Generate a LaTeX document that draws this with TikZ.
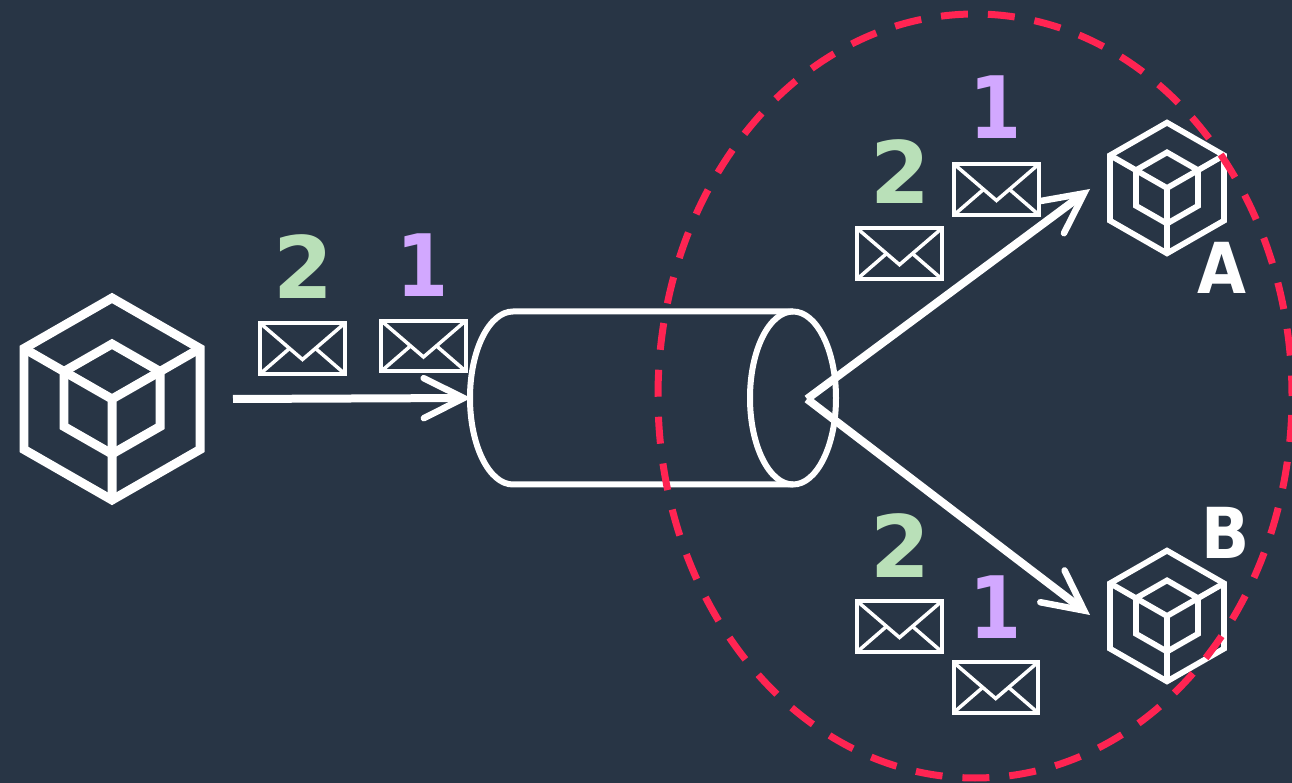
\documentclass[tikz,border=0pt]{standalone}
\usepackage{fontspec}
\setmainfont{DejaVu Sans}
\usetikzlibrary{arrows.meta}
\definecolor{slatebg}{HTML}{283545}
\definecolor{lilac}{HTML}{D2A8FF}
\definecolor{mint}{HTML}{B9E0B8}
\definecolor{alertred}{HTML}{FF2452}
\tikzset{
	flow/.style={draw=white, line width=0.16cm, -{Straight Barb[length=0.8cm, width=0.8cm, line width=0.13cm, line cap=round, line join=miter]}},
	seqnum/.style={font=\fontsize{49}{49}\selectfont\bfseries, inner sep=0pt},
	seqone/.style={seqnum, text=lilac, xscale=0.87, transform shape},
	tag/.style={font=\fontsize{40}{40}\selectfont\bfseries, text=white, inner sep=0pt, xscale=0.9, transform shape},
	cube/.pic={
		\draw[white, miter limit=4] (0,-101) -- (88,-50.5) -- (88,50.5) -- (0,101) -- (-88,50.5) -- (-88,-50.5) -- cycle;
		\draw[white] (0,-55) -- (48,-27.5) -- (48,27.5) -- (0,55) -- (-48,27.5) -- (-48,-27.5) -- cycle;
		\draw[white] (0,101) -- (0,0) (-48,-27.5) -- (0,0) -- (48,-27.5);
		\draw[white] (-88,-50.5) -- (-48,-27.5) (88,-50.5) -- (48,-27.5);
	},
	mail/.pic={
		\draw[white, line width=0.08cm, fill=slatebg] (-42.2,-25.2) rectangle (42.2,25.2);
		\draw[white, line width=0.07cm] (-42.2,-25.2) -- (0,11) -- (42.2,-25.2);
		\draw[white, line width=0.07cm] (-42.2,25.2) -- (-12.5,-0.5) (42.2,25.2) -- (12.5,-0.5);
	}
}

\begin{document}
\begin{tikzpicture}[x=0.02cm, y=-0.02cm]
	% Background
	\fill[slatebg] (0,0) rectangle (1292,783);
	\useasboundingbox (0,0) rectangle (1292,783);

	% Producer
	\pic[line width=0.18cm] (producer) at (112,399) {cube};

	% Queue
	\draw[white, line width=0.12cm] (793,311.5) -- (513,311.5) arc (-90:-270:43 and 86.5) -- (793,484.5);
	\draw[white, line width=0.12cm] (793,398) ellipse (43 and 86.5);
	\coordinate (queuein) at (471,398);
	\coordinate (producerout) at (233,399);
	\coordinate (fanout) at (807,399);
	\coordinate (inboxa) at (1090,189);
	\coordinate (inboxb) at (1090,615);

	% Arrows
	\draw[flow] (producerout) -- (queuein);
	\draw[flow] (fanout) -- (inboxa);
	\draw[flow] (fanout) -- (inboxb);

	% Messages going into the queue
	\pic (mailtwo) at (302.5,348.5) {mail};
	\pic (mailone) at (423.5,346) {mail};
	\node[seqnum, text=mint] (numtwo) at (303,267) {2};
	\node[seqone] (numone) at (423,265) {1};

	% Consumer A
	\pic[line width=0.115cm, scale=0.647] (consumera) at (1167,188) {cube};
	\node[tag] (taga) at (1222,268) {A};
	\pic (mailaone) at (996.5,189.5) {mail};
	\pic (mailatwo) at (899.5,253.7) {mail};
	\node[seqone] (numaone) at (996,107) {1};
	\node[seqnum, text=mint] (numatwo) at (900,172) {2};

	% Consumer B
	\pic[line width=0.115cm, scale=0.647] (consumerb) at (1167,616) {cube};
	\node[tag] (tagb) at (1226,533) {B};
	\pic (mailbone) at (995.7,687.5) {mail};
	\pic (mailbtwo) at (899.5,626.5) {mail};
	\node[seqone] (numbone) at (996,607) {1};
	\node[seqnum, text=mint] (numbtwo) at (900,546) {2};

	% Consumer group
	\draw[alertred, line width=0.14cm, dash pattern=on 0.54cm off 0.4cm, dash phase=0.56cm] (975,396) ellipse (317 and 382);
\end{tikzpicture}
\end{document}
